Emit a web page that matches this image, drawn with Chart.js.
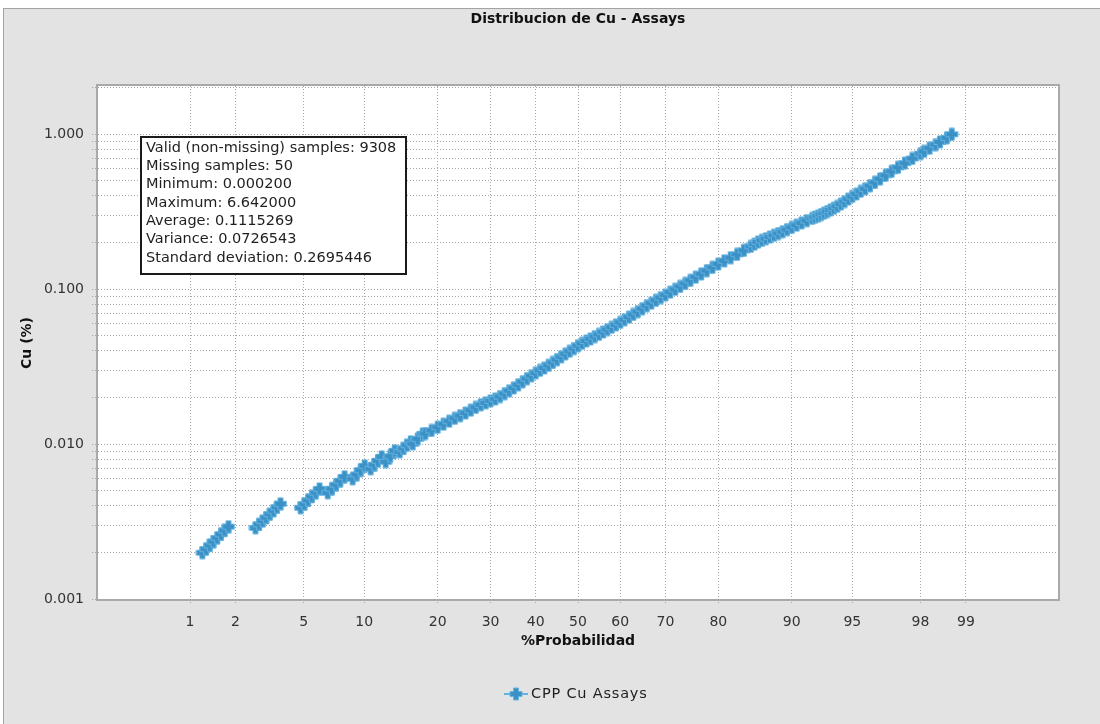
<!DOCTYPE html>
<html>
<head>
<meta charset="utf-8">
<title>Distribucion de Cu - Assays</title>
<script src="https://cdn.jsdelivr.net/npm/chart.js@4.4.1/dist/chart.umd.min.js"></script>
<style>
  html, body { margin: 0; padding: 0; background: #ffffff; overflow: hidden; }
  #frame {
    position: absolute; left: 3px; top: 8px; width: 1097px; height: 716px;
    background: #e3e3e3; border-top: 1px solid #a3a3a3; border-left: 1px solid #a3a3a3;
    box-sizing: border-box;
  }
  #wrap { position: absolute; left: 0; top: 0; width: 1100px; height: 724px; }
</style>
</head>
<body>
<div id="frame"></div>
<div id="wrap"><canvas id="cppChart" width="1100" height="724"></canvas></div>
<script>
/* ═══════════════════════════════════════════════════════
   Distribucion de Cu - Assays — probability plot
   ═══════════════════════════════════════════════════════ */

// cumulative probability (%) of each plotted sample
const CUM_PROB = [
  1.215, 1.287, 1.363, 1.442, 1.528, 1.616, 1.708, 1.804,
  2.656, 2.794, 2.931, 3.074, 3.230, 3.392, 3.554, 3.721,
  4.81, 5.04, 5.28, 5.53, 5.79, 6.06,
  6.67, 7.00, 7.35, 7.71, 8.08,
  8.83, 9.22, 9.62, 10.04,
  10.69, 11.10, 11.52, 11.96,
  12.44, 13.01, 13.59,
  14.25, 14.76, 15.26, 15.80,
  16.08, 16.83, 17.60,
  18, 19, 20, 21, 22, 23, 24, 25, 26, 27, 28, 29, 30, 31, 32, 33, 34, 35,
  36, 37, 38, 39, 40, 41, 42, 43, 44, 45, 46, 47, 48, 49, 50, 51, 52, 53,
  54, 55, 56, 57, 58, 59, 60, 61, 62, 63, 64, 65, 66, 67, 68, 69, 70, 71,
  72, 73, 74, 75, 76, 77, 78, 79, 80, 81, 82, 83, 84, 85,
  85.5, 86, 86.5, 87, 87.5, 88, 88.5, 89, 89.5, 90, 90.5, 91, 91.5, 92,
  92.25, 92.5, 92.75, 93, 93.25, 93.5, 93.75, 94, 94.25, 94.5, 94.75, 95,
  95.25, 95.5, 95.75, 96, 96.25, 96.5, 96.75, 97, 97.25, 97.5, 97.75, 98,
  98.1, 98.25, 98.4, 98.5, 98.65, 98.75
];

// Cu grade (%) for each probability above
const CU_GRADE = [
  0.00199, 0.00210, 0.00222, 0.00235, 0.00248, 0.00262, 0.00277, 0.00293,
  0.00288, 0.00303, 0.00319, 0.00335, 0.00353, 0.00371, 0.00391, 0.00412,
  0.00388, 0.00410, 0.00434, 0.00459, 0.00486, 0.00514,
  0.00485, 0.00515, 0.00547, 0.00580, 0.00615,
  0.00597, 0.00637, 0.00679, 0.00724,
  0.00693, 0.00736, 0.00781, 0.00828,
  0.00769, 0.00834, 0.00905,
  0.00892, 0.00937, 0.00985, 0.01035,
  0.01004, 0.01081, 0.01165,
  0.0117, 0.01225, 0.01285, 0.01346, 0.01407, 0.01467, 0.01528, 0.01589,
  0.01656, 0.01725, 0.01794, 0.01846, 0.01902, 0.01957, 0.02028, 0.02118,
  0.02211, 0.02306, 0.02414, 0.02529, 0.02647, 0.02767, 0.02884, 0.02992,
  0.03102, 0.03221, 0.03366, 0.03513, 0.03664, 0.03826, 0.03975, 0.04140,
  0.04315, 0.04477, 0.04634, 0.04777, 0.04943, 0.05105, 0.05297, 0.05483,
  0.05675, 0.05888, 0.06109, 0.06353, 0.06607, 0.06871, 0.07167, 0.07482,
  0.07834, 0.08128, 0.08475, 0.08826, 0.09183, 0.09567, 0.09977, 0.1042,
  0.1089, 0.1141, 0.1197, 0.1255, 0.1318, 0.1383, 0.1455, 0.1526, 0.1597,
  0.1678, 0.1780, 0.1891,
  0.1954, 0.2016, 0.2066, 0.2118, 0.2172, 0.2228, 0.2288, 0.2350, 0.2425,
  0.2504, 0.2588, 0.2678, 0.2772, 0.2863,
  0.2915, 0.2965, 0.3033, 0.3097, 0.3172, 0.3250, 0.3333, 0.3425, 0.3546,
  0.3681, 0.3820, 0.3972, 0.4124, 0.4287, 0.4450, 0.4658, 0.4893, 0.5157,
  0.5436, 0.5765, 0.6120, 0.6516, 0.6979, 0.7506,
  0.7745, 0.8136, 0.858, 0.8919, 0.949, 1.0
];

const PROB_TICKS = [1, 2, 5, 10, 20, 30, 40, 50, 60, 70, 80, 90, 95, 98, 99];
const CU_DECADES = [0.001, 0.01, 0.1, 1];

const STATS_LINES = [
  'Valid (non-missing) samples: 9308',
  'Missing samples: 50',
  'Minimum: 0.000200',
  'Maximum: 6.642000',
  'Average: 0.1115269',
  'Variance: 0.0726543',
  'Standard deviation: 0.2695446',
];

const SERIES_NAME = 'CPP Cu Assays';
const FONT = '"DejaVu Sans", Verdana, sans-serif';

/* ── Normal distribution helpers (for the probability axis) ─────────────── */
function probit(p) {
  // Acklam's rational approximation of the inverse normal CDF
  const a = [-3.969683028665376e+01, 2.209460984245205e+02, -2.759285104469687e+02,
             1.383577518672690e+02, -3.066479806614716e+01, 2.506628277459239e+00];
  const b = [-5.447609879822406e+01, 1.615858368580409e+02, -1.556989798598866e+02,
             6.680131188771972e+01, -1.328068155288572e+01];
  const c = [-7.784894002430293e-03, -3.223964580411365e-01, -2.400758277161838e+00,
             -2.549732539343734e+00, 4.374664141464968e+00, 2.938163982698783e+00];
  const d = [7.784695709041462e-03, 3.224671290700398e-01, 2.445134137142996e+00,
             3.754408661907416e+00];
  const lo = 0.02425;
  if (p < lo) {
    const q = Math.sqrt(-2 * Math.log(p));
    return (((((c[0]*q+c[1])*q+c[2])*q+c[3])*q+c[4])*q+c[5]) /
           ((((d[0]*q+d[1])*q+d[2])*q+d[3])*q+1);
  }
  if (p > 1 - lo) {
    const q = Math.sqrt(-2 * Math.log(1 - p));
    return -(((((c[0]*q+c[1])*q+c[2])*q+c[3])*q+c[4])*q+c[5]) /
            ((((d[0]*q+d[1])*q+d[2])*q+d[3])*q+1);
  }
  const q = p - 0.5, r = q * q;
  return (((((a[0]*r+a[1])*r+a[2])*r+a[3])*r+a[4])*r+a[5]) * q /
         (((((b[0]*r+b[1])*r+b[2])*r+b[3])*r+b[4])*r+1);
}

function normCdf(z) {
  const t  = 1 / (1 + 0.2316419 * Math.abs(z));
  const dz = 0.3989423 * Math.exp(-z * z / 2);
  const pr = dz * t * (0.3193815 + t * (-0.3565638 + t * (1.781478 + t * (-1.821256 + t * 1.330274))));
  return z > 0 ? 1 - pr : pr;
}

/* ── Probability scale: linear in normal quantiles ──────────────────────── */
class ProbabilityScale extends Chart.LinearScale {
  determineDataLimits() {
    this.min = this.options.min;
    this.max = this.options.max;
  }
  buildTicks() {
    return PROB_TICKS.map(v => ({ value: v }));
  }
  configure() {
    super.configure();
    this._zLo = probit(this.min / 100);
    this._zHi = probit(this.max / 100);
  }
  getPixelForValue(value) {
    const z = probit(value / 100);
    return this.getPixelForDecimal((z - this._zLo) / (this._zHi - this._zLo));
  }
  getValueForPixel(pixel) {
    const z = this._zLo + this.getDecimalForPixel(pixel) * (this._zHi - this._zLo);
    return normCdf(z) * 100;
  }
}
ProbabilityScale.id = 'probability';
Chart.register(ProbabilityScale);

/* ── Plus-shaped marker ─────────────────────────────────────────────────── */
function makeCrossMarker() {
  const cv = document.createElement('canvas');
  cv.width = 14; cv.height = 14;
  const g = cv.getContext('2d');
  const pts = [[4.5,1],[9.5,1],[9.5,4.5],[13,4.5],[13,9.5],[9.5,9.5],
               [9.5,13],[4.5,13],[4.5,9.5],[1,9.5],[1,4.5],[4.5,4.5]];
  g.beginPath();
  pts.forEach(([x, y], i) => i ? g.lineTo(x, y) : g.moveTo(x, y));
  g.closePath();
  g.fillStyle = '#3b91c6';
  g.fill();
  g.strokeStyle = '#64b3e0';
  g.lineWidth = 1;
  g.stroke();
  return cv;
}
const marker = makeCrossMarker();

// gridlines at 1..9 x each decade
const cuGridValues = [];
CU_DECADES.forEach(dec => {
  for (let m = 1; m <= 9; m++) {
    const v = m === 1 ? dec : m * dec;
    if (v <= 2.05) cuGridValues.push(v);
  }
});

/* ── Decorations: plot frame, stats box, titles, legend ─────────────────── */
const decorPlugin = {
  id: 'decor',
  beforeDraw(chart) {
    const { ctx, chartArea: a } = chart;
    ctx.save();
    ctx.fillStyle = '#ffffff';
    ctx.fillRect(a.left, a.top, a.right - a.left, a.bottom - a.top);
    ctx.restore();
  },
  afterDraw(chart) {
    const { ctx, chartArea: a } = chart;
    const cx = (a.left + a.right) / 2;
    ctx.save();

    // plot frame
    ctx.strokeStyle = '#a9a9a9';
    ctx.lineWidth = 2;
    ctx.strokeRect(a.left - 1, a.top - 1, a.right - a.left + 2, a.bottom - a.top + 2);

    // stats box
    ctx.fillStyle = '#ffffff';
    ctx.fillRect(141, 137, 265, 137);
    ctx.strokeStyle = '#1a1a1a';
    ctx.lineWidth = 2;
    ctx.strokeRect(141, 137, 265, 137);
    ctx.fillStyle = '#1e1e1e';
    ctx.font = '14.5px ' + FONT;
    ctx.textAlign = 'left';
    ctx.textBaseline = 'middle';
    STATS_LINES.forEach((t, i) => ctx.fillText(t, 146, 148 + i * 18.3));

    // titles
    ctx.fillStyle = '#111111';
    ctx.textAlign = 'center';
    ctx.font = 'bold 14px ' + FONT;
    ctx.fillText('Distribucion de Cu - Assays', cx, 19);
    ctx.fillText('%Probabilidad', cx, 641);
    ctx.save();
    ctx.translate(27, 343);
    ctx.rotate(-Math.PI / 2);
    ctx.fillText('Cu (%)', 0, 0);
    ctx.restore();

    // legend
    const ly = 694;
    ctx.strokeStyle = '#64b3e0';
    ctx.lineWidth = 2;
    ctx.beginPath();
    ctx.moveTo(504, ly);
    ctx.lineTo(528, ly);
    ctx.stroke();
    ctx.drawImage(marker, 516 - 7, ly - 7);
    ctx.fillStyle = '#1e1e1e';
    ctx.textAlign = 'left';
    ctx.font = '14.5px ' + FONT;
    ctx.letterSpacing = '0.8px';
    ctx.fillText(SERIES_NAME, 531, ly);

    ctx.restore();
  }
};

/* ── Chart ──────────────────────────────────────────────────────────────── */
const gridStyle = {
  color: '#a6a6a6',
  lineWidth: 1,
  drawTicks: true,
  tickLength: 6,
  tickColor: '#a6a6a6',
  tickBorderDash: [1, 2],
};

new Chart(document.getElementById('cppChart').getContext('2d'), {
  type: 'scatter',
  data: {
    datasets: [{
      label: SERIES_NAME,
      data: CUM_PROB.map((p, i) => ({ x: p, y: CU_GRADE[i] })),
      pointStyle: marker,
      pointRadius: 7,
      showLine: false,
    }]
  },
  options: {
    responsive: false,
    devicePixelRatio: 1,
    animation: false,
    layout: { padding: { left: 0, top: 86, right: 42, bottom: 0 } },
    font: { family: FONT },
    plugins: {
      legend: { display: false },
      title: { display: false },
      tooltip: { enabled: false },
    },
    scales: {
      x: {
        type: 'probability',
        min: 0.2, max: 99.8,
        afterFit: s => { s.height = 125; },
        ticks: {
          autoSkip: false, maxRotation: 0, padding: 9,
          color: '#333333', font: { family: FONT, size: 14 },
          callback: v => String(v),
        },
        grid: gridStyle,
        border: { display: false, dash: [1, 2] },
      },
      y: {
        type: 'logarithmic',
        min: 0.001, max: 2.05,
        afterBuildTicks: s => { s.ticks = cuGridValues.map(v => ({ value: v })); },
        afterFit: s => { s.width = 98; },
        ticks: {
          autoSkip: false, padding: 8,
          color: '#333333', font: { family: FONT, size: 14 },
          callback: v => CU_DECADES.includes(v) ? v.toFixed(3) : '',
        },
        grid: gridStyle,
        border: { display: false, dash: [1, 2] },
      }
    }
  },
  plugins: [decorPlugin]
});
</script>
</body>
</html>
